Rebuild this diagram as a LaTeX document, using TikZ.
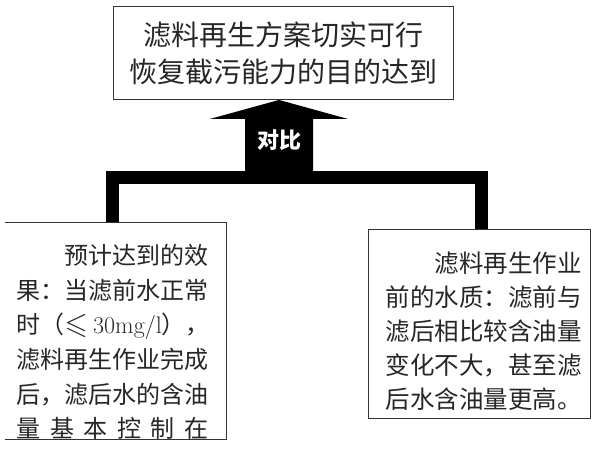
\documentclass[tikz,border=0pt]{standalone}
\usepackage{amssymb}
\usepackage{fontspec}
\usepackage{tikz}
\usetikzlibrary{calc}
\usetikzlibrary{positioning}
\newfontfamily\cjk{Noto Sans CJK SC}
\tikzset{every picture/.style={line width=1pt},frame/.style={draw=black!80,line width=0.9pt},body/.style={align=left,inner sep=0pt,text=black!85,font=\cjk\fontsize{24}{34.6}\selectfont},bracket/.style={line width=13pt,line join=miter,black}}
\begin{document}
\begin{tikzpicture}[x=1pt, y=-1pt]
\useasboundingbox (0,0) rectangle (600,450);
\node (goal) at (283,53) [frame, minimum width=340, minimum height=93, align=center, text=black!85, font=\cjk\fontsize{28}{37}\selectfont] {滤料再生方案切实可行\\恢复截污能力的目的达到};
% the two boxes below
\node (pred) at (5,222) [anchor=north west, minimum width=220, minimum height=216, inner sep=0pt] {};
\draw [frame] (pred.north west) -- (pred.north east) -- (pred.south east) -- (pred.south west);
\node (predtext) at ($(pred.north west)+(11,22)$) [body, anchor=north west] {\hspace*{2em}预计达到的效\\果：当滤前水正常\\时（{\fontsize{30}{30}\selectfont$\leqslant$}\ {\normalfont 30mg/l}），\\滤料再生作业完成\\后，滤后水的含油\\\makebox[8em][s]{量 基 本 控 制 在}};
\node (state) at (368,229) [frame, anchor=north west, minimum width=222, minimum height=189, inner sep=0pt] {};
\node (statetext) at ($(state.north west)+(17,22)$) [body, anchor=north west, font=\cjk\fontsize{24.5}{34}\selectfont] {\hspace*{2em}滤料再生作业\\前的水质：滤前与\\滤后相比较含油量\\变化不大，甚至滤\\后水含油量更高。};
% bracket and arrow
\coordinate (joint) at (279,177);
\coordinate (lcorner) at (112,177);
\coordinate (rcorner) at (481.5,177);
\coordinate (tip) at (goal.south -| joint);
\draw [bracket] (pred.north -| lcorner) -- (lcorner) -- (rcorner) -- (state.north -| rcorner);
\fill [black] ($(joint)+(-34,0)$) |- ($(tip)+(-69,19)$) -- (tip) -- ($(tip)+(69,19)$) -| ($(joint)+(34,0)$) -- cycle;
\node (compare) at ($(joint)+(0,-37)$) [text=white, font=\cjk\bfseries\fontsize{22}{22}\selectfont] {对比};
\end{tikzpicture}
\end{document}
